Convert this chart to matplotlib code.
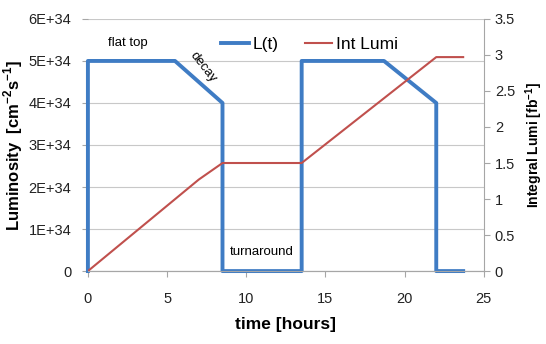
import numpy as np
import matplotlib.pyplot as plt
from matplotlib import font_manager
from matplotlib.ticker import FuncFormatter

# L(t) 曲线（单位 1E+34）
lum_t = [0, 0, 5.5, 8.5, 8.5, 13.5, 13.5, 18.7, 22.0, 22.0, 23.7]
lum_v = [0, 5, 5, 4, 0, 0, 5, 5, 4, 0, 0]

# 积分亮度 [fb^-1]
int_t = [0, 7.0, 8.5, 13.5, 22.0, 23.7]
int_v = [0, 1.27, 1.5, 1.5, 2.97, 2.97]

x_ticks = [0, 5, 10, 15, 20, 25]
left_ticks = [0, 1, 2, 3, 4, 5, 6]
right_ticks = [0, 0.5, 1, 1.5, 2, 2.5, 3, 3.5]

blue = '#3f7cc4'
red = '#c0504d'
grey = '#a6a6a6'

names = {f.name for f in font_manager.fontManager.ttflist}
if 'Liberation Sans Narrow' in names:
    plt.rcParams['font.family'] = ['Liberation Sans Narrow', 'DejaVu Sans']
else:
    plt.rcParams['font.family'] = ['Liberation Sans', 'DejaVu Sans']
plt.rcParams['mathtext.fontset'] = 'custom'
plt.rcParams['mathtext.rm'] = plt.rcParams['font.family'][0]
plt.rcParams['mathtext.bf'] = plt.rcParams['font.family'][0] + ':bold'

fig = plt.figure(figsize=(5.46, 3.44), dpi=100, facecolor='white')
ax = fig.add_axes([0.161, 0.212, 0.725, 0.733])
ax2 = ax.twinx()

ax.plot(lum_t, np.array(lum_v) * 1e34, color=blue, lw=2.8, label='L(t)', zorder=3, clip_on=False)
ax2.plot(int_t, int_v, color=red, lw=1.5, label='Int Lumi', zorder=3)

ax.set_xlim(0, 25)
ax.set_ylim(0, 6e34)
ax2.set_ylim(0, 3.5)
ax.set_xticks(x_ticks)
ax.set_yticks(np.array(left_ticks) * 1e34)
ax2.set_yticks(right_ticks)
ax.yaxis.set_major_formatter(FuncFormatter(lambda v, p: '0' if v == 0 else f'{v/1e34:.0f}E+34'))
ax2.yaxis.set_major_formatter(FuncFormatter(lambda v, p: f'{v:g}'))

ax.grid(axis='y', color='#c8c8c8', lw=0.8)
ax.set_axisbelow(True)
for a in (ax, ax2):
    for s in a.spines.values():
        s.set_color(grey)
    a.spines['top'].set_visible(False)
    a.tick_params(colors='#222222', labelsize=10.5, length=4, color=grey)
ax.spines['left'].set_visible(False)
ax.spines['right'].set_visible(False)
ax2.spines['left'].set_visible(False)
ax.tick_params(axis='x', pad=11)
ax.tick_params(axis='y', pad=8)
ax2.tick_params(axis='y', pad=4)

ax.set_xlabel('time [hours]', fontsize=12.5, fontweight='bold', labelpad=8)
ax.set_ylabel('Luminosity  [cm$^{\\mathbf{-2}}$s$^{\\mathbf{-1}}$]', fontsize=12, fontweight='bold')
ax.yaxis.set_label_coords(-0.16, 0.5)
ax2.set_ylabel('Integral Lumi [fb$^{\\mathbf{-1}}$]', fontsize=10, fontweight='bold')
ax2.yaxis.set_label_coords(1.1, 0.5)

# 文字标注
ax.text(2.5, 5.43e34, 'flat top', fontsize=9.5, ha='center', va='center')
ax.text(7.3, 4.85e34, 'decay', fontsize=9.5, ha='center', va='center', rotation=-52)
ax.text(11.0, 0.45e34, 'turnaround', fontsize=9.5, ha='center', va='center')

h1, l1 = ax.get_legend_handles_labels()
h2, l2 = ax2.get_legend_handles_labels()
ax.legend(h1 + h2, l1 + l2, loc='upper center', bbox_to_anchor=(0.56, 0.99), ncol=2,
          frameon=False, fontsize=12.5, handlelength=1.6, columnspacing=1.5, handletextpad=0.2)

plt.savefig('out.png', dpi=100)
